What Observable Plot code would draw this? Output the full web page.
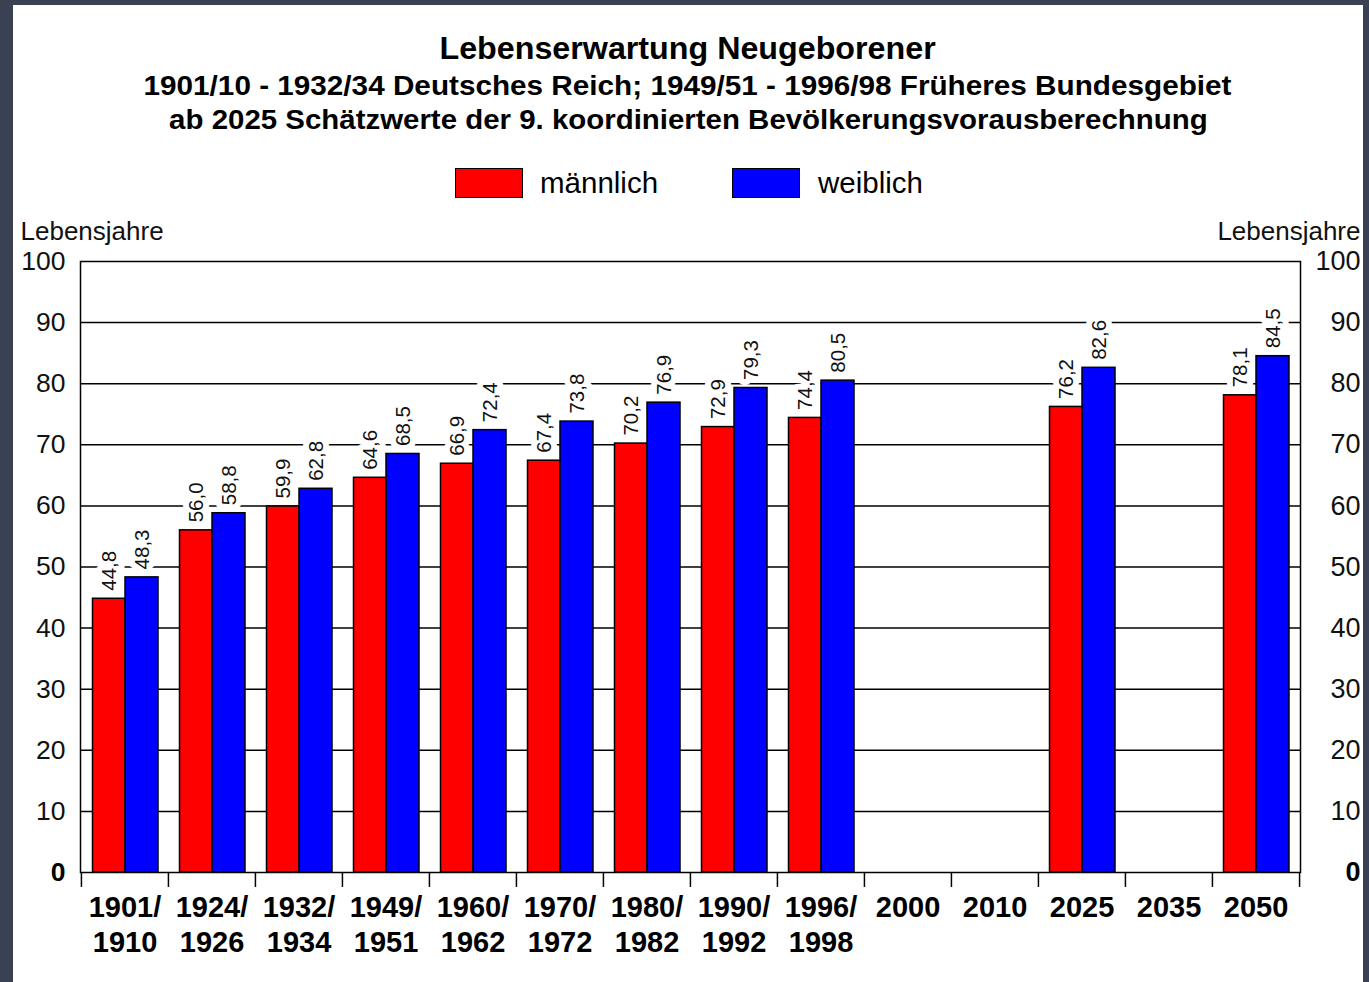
<!DOCTYPE html>
<html>
<head>
<meta charset="utf-8">
<script src="https://cdn.jsdelivr.net/npm/d3@7"></script>
<script src="https://cdn.jsdelivr.net/npm/@observablehq/plot@0.6"></script>
<style>
  html, body { margin: 0; padding: 0; background: #3a4152; width: 1369px; height: 982px; overflow: hidden; }
  #panel { position: absolute; left: 13px; top: 5px; width: 1350px; height: 977px; background: #fff; font-family: "Liberation Sans", Arial, Helvetica, sans-serif; color: #000; }
  .tline { position: absolute; left: 0; width: 1350px; text-align: center; font-weight: bold; white-space: nowrap; }
  .tline span { display: inline-block; }
  .sw { position: absolute; width: 66px; height: 28px; border: 1.5px solid #000; }
  .lt { position: absolute; font-size: 29.5px; line-height: 30px; white-space: nowrap; }
  #chart { position: absolute; left: 0; top: 205px; }
</style>
</head>
<body>
<div id="panel">
  <div class="tline" style="top:26px;height:36px;line-height:36px;font-size:31px;"><span style="transform:scaleX(1.04)">Lebenserwartung Neugeborener</span></div>
  <div class="tline" style="top:64px;height:34px;line-height:34px;font-size:27px;"><span style="transform:scaleX(1.1)">1901/10 - 1932/34 Deutsches Reich; 1949/51 - 1996/98 Früheres Bundesgebiet</span></div>
  <div class="tline" style="top:98px;height:34px;line-height:34px;font-size:27px;"><span style="transform:scaleX(1.09)">ab 2025 Schätzwerte der 9. koordinierten Bevölkerungsvorausberechnung</span></div>
  <div class="sw" style="left:442px;top:163px;background:#ff0000;"></div>
  <div class="lt" style="left:527px;top:163px;">männlich</div>
  <div class="sw" style="left:719px;top:163px;background:#0000ff;"></div>
  <div class="lt" style="left:805px;top:163px;">weiblich</div>
  <div id="chart"></div>
</div>
<script>
const periods = ["1901/1910","1924/1926","1932/1934","1949/1951","1960/1962","1970/1972","1980/1982","1990/1992","1996/1998","2000","2010","2025","2035","2050"];
const maleValues = [44.8,56.0,59.9,64.6,66.9,67.4,70.2,72.9,74.4,null,null,76.2,null,78.1];
const femaleValues = [48.3,58.8,62.8,68.5,72.4,73.8,76.9,79.3,80.5,null,null,82.6,null,84.5];
const yTicks = [0,10,20,30,40,50,60,70,80,90,100];
const seriesNames = ["männlich","weiblich"];
const seriesColors = ["#ff0000","#0000ff"];

const W = 1350, H = 772, mL = 67, mR = 63, mT = 51, mB = 110;
const bw = (W - mL - mR) / periods.length;

const male = periods.map((p, i) => ({period: p, value: maleValues[i]})).filter(d => d.value != null);
const female = periods.map((p, i) => ({period: p, value: femaleValues[i]})).filter(d => d.value != null);
const fmt = v => d3.format(".1f")(v).replace(".", ",");
const xLabel = p => p.includes("/") ? p.replace("/", "/\n") : p;

const font = "Liberation Sans, Arial, Helvetica, sans-serif";

const chart = Plot.plot({
  width: W, height: H,
  marginLeft: mL, marginRight: mR, marginTop: mT, marginBottom: mB,
  style: {fontFamily: font, background: "transparent", overflow: "visible", color: "#000"},
  x: {type: "band", domain: periods, padding: 0, axis: null},
  y: {domain: [0, 100], axis: null},
  marks: [
    Plot.ruleY(yTicks.filter(d => d > 0 && d < 100), {stroke: "#000", strokeWidth: 1.5}),
    Plot.text(male, {x: "period", y: "value", text: d => fmt(d.value), rotate: -90, textAnchor: "start", lineAnchor: "middle", dx: -16, dy: -8, fontSize: 20.5, fill: "#111", stroke: "#fff", strokeWidth: 12}),
    Plot.text(female, {x: "period", y: "value", text: d => fmt(d.value), rotate: -90, textAnchor: "start", lineAnchor: "middle", dx: 17, dy: -8, fontSize: 20.5, fill: "#111", stroke: "#fff", strokeWidth: 12}),
    Plot.barY(male, {x: "period", y: "value", fill: seriesColors[0], stroke: "#000", strokeWidth: 1.5, insetLeft: 11.5, insetRight: 43}),
    Plot.barY(female, {x: "period", y: "value", fill: seriesColors[1], stroke: "#000", strokeWidth: 1.5, insetLeft: 44, insetRight: 10}),
    Plot.frame({stroke: "#000", strokeWidth: 1.5}),
    Plot.ruleX(periods, {x: d => d, dx: -bw / 2, y1: 0, y2: -2.45, stroke: "#000", strokeWidth: 1.5}),
    Plot.ruleX(periods.slice(-1), {x: d => d, dx: bw / 2, y1: 0, y2: -2.45, stroke: "#000", strokeWidth: 1.5}),
    Plot.text(periods, {x: d => d, text: xLabel, frameAnchor: "bottom", lineAnchor: "top", dy: 19, lineHeight: 1.22, fontSize: 29, fontWeight: "bold", fill: "#000"}),
    Plot.text(yTicks.filter(d => d > 0), {y: d => d, text: d => String(d), frameAnchor: "left", textAnchor: "end", dx: -15, fontSize: 26.5, fill: "#111"}),
    Plot.text([0], {y: d => d, text: d => String(d), frameAnchor: "left", textAnchor: "end", dx: -15, fontSize: 26.5, fontWeight: "bold", fill: "#000"}),
    Plot.text(yTicks.filter(d => d > 0), {y: d => d, text: d => String(d), frameAnchor: "right", textAnchor: "end", dx: 60, fontSize: 27, fill: "#111"}),
    Plot.text([0], {y: d => d, text: d => String(d), frameAnchor: "right", textAnchor: "end", dx: 60, fontSize: 27, fontWeight: "bold", fill: "#000"}),
    Plot.text(["Lebensjahre"], {text: d => d, frameAnchor: "top-left", textAnchor: "start", lineAnchor: "middle", dx: -60, dy: -30, fontSize: 26, fill: "#111"}),
    Plot.text(["Lebensjahre"], {text: d => d, frameAnchor: "top-right", textAnchor: "end", lineAnchor: "middle", dx: 60, dy: -30, fontSize: 26, fill: "#111"})
  ]
});
document.getElementById("chart").appendChild(chart);
</script>
</body>
</html>
